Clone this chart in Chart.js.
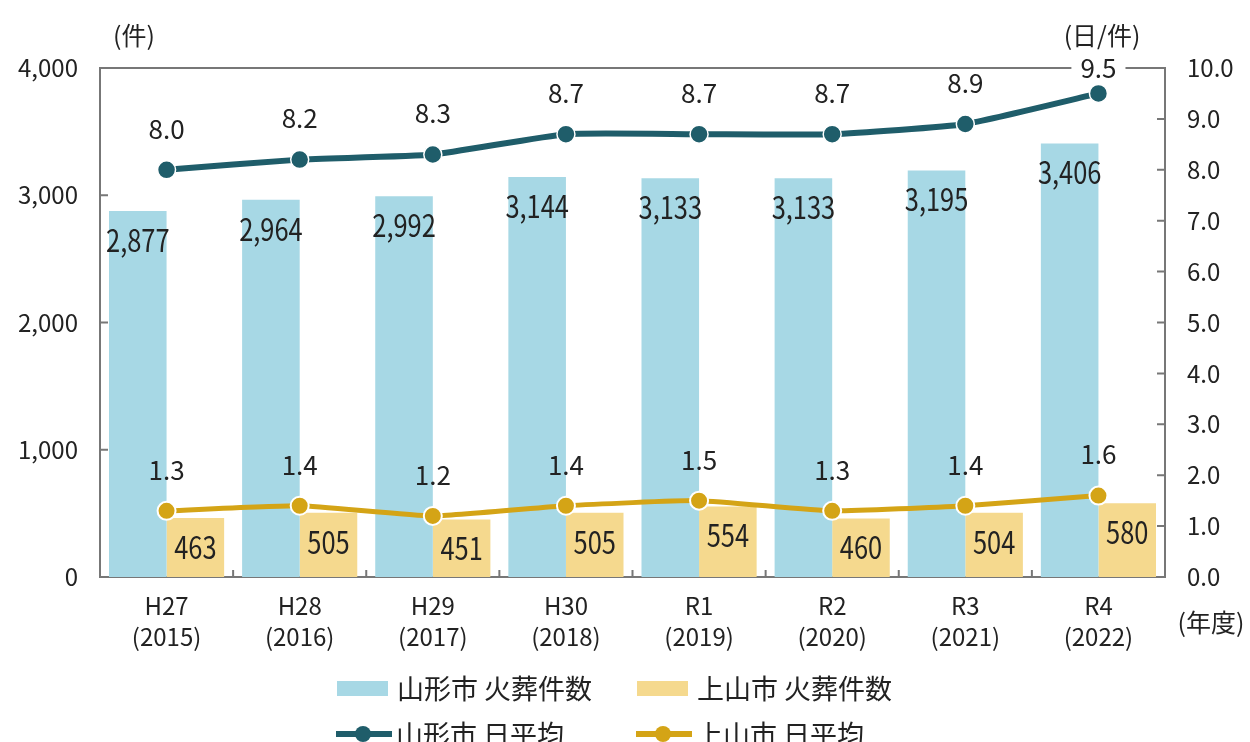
<!DOCTYPE html>
<html lang="ja">
<head>
<meta charset="utf-8">
<script src="https://cdn.jsdelivr.net/npm/chart.js@4/dist/chart.umd.min.js"></script>
<style>
  body { margin: 0; background: #fff; }
  #wrap { width: 1250px; height: 742px; position: relative; }
</style>
</head>
<body>
<div id="wrap"><canvas id="myChart"></canvas></div>
<script>
const categories = [['H27','(2015)'],['H28','(2016)'],['H29','(2017)'],['H30','(2018)'],['R1','(2019)'],['R2','(2020)'],['R3','(2021)'],['R4','(2022)']]
const yamagataCount = [2877, 2964, 2992, 3144, 3133, 3133, 3195, 3406]
const kaminoyamaCount = [463, 505, 451, 505, 554, 460, 504, 580]
const yamagataAvg = [8.0, 8.2, 8.3, 8.7, 8.7, 8.7, 8.9, 9.5]
const kaminoyamaAvg = [1.3, 1.4, 1.2, 1.4, 1.5, 1.3, 1.4, 1.6]
const seriesNames = ['山形市 火葬件数', '上山市 火葬件数', '山形市 日平均', '上山市 日平均']

const FONT = '"Noto Sans CJK JP", "Noto Sans", sans-serif'
const TEXT = '#222'
const FRAME = '#777'

const fmt = v => v.toLocaleString('en-US')

// data labels on bars and points
const valueLabels = {
  id: 'valueLabels',
  afterDatasetsDraw(chart) {
    const ctx = chart.ctx
    const area = chart.chartArea
    ctx.save()
    ctx.textAlign = 'center'
    ctx.textBaseline = 'middle'
    chart.data.datasets.forEach((ds, i) => {
      const meta = chart.getDatasetMeta(i)
      meta.data.forEach((el, j) => {
        const v = ds.data[j]
        if (ds.type === 'bar') {
          // tall, narrow digits like the original
          ctx.save()
          ctx.font = '31px ' + FONT
          ctx.fillStyle = TEXT
          ctx.translate(el.x, el.y + 29)
          ctx.scale(0.82, 1)
          ctx.fillText(i === 0 ? fmt(v) : String(v), 0, 0)
          ctx.restore()
        } else {
          const txt = v.toFixed(1)
          let y = el.y - 41
          if (y < area.top) y = area.top
          ctx.font = '26px ' + FONT
          if (i === 2) {
            const w = ctx.measureText(txt).width
            ctx.fillStyle = '#fff'
            ctx.fillRect(el.x - w / 2 - 9, y - 14, w + 18, 28)
          }
          ctx.fillStyle = TEXT
          ctx.fillText(txt, el.x, y)
        }
      })
    })
    ctx.restore()
  }
}

// top border, inward tick marks, axis titles, legend
const frameAndLegend = {
  id: 'frameAndLegend',
  beforeDatasetsDraw(chart) {
    const ctx = chart.ctx
    const a = chart.chartArea
    const y = chart.scales.y
    const y1 = chart.scales.y1
    const x = chart.scales.x
    ctx.save()
    ctx.strokeStyle = FRAME
    ctx.lineWidth = 2
    ctx.beginPath()
    ctx.moveTo(a.left, a.top); ctx.lineTo(a.right, a.top)
    y.ticks.forEach(t => {
      const p = y.getPixelForValue(t.value)
      ctx.moveTo(a.left, p); ctx.lineTo(a.left + 8, p)
    })
    y1.ticks.forEach(t => {
      const p = y1.getPixelForValue(t.value)
      ctx.moveTo(a.right, p); ctx.lineTo(a.right - 8, p)
    })
    for (let i = 1; i < categories.length; i++) {
      const p = (x.getPixelForValue(i - 1) + x.getPixelForValue(i)) / 2
      ctx.moveTo(p, a.bottom); ctx.lineTo(p, a.bottom - 7)
    }
    ctx.stroke()
    ctx.restore()
  },
  afterDraw(chart) {
    const ctx = chart.ctx
    const ds = chart.data.datasets
    ctx.save()
    ctx.fillStyle = TEXT
    ctx.textBaseline = 'middle'
    ctx.textAlign = 'center'
    ctx.font = '25px ' + FONT
    ctx.fillText('(件)', 134, 35)
    ctx.fillText('(日/件)', 1102, 35)
    ctx.fillText('(年度)', 1211, 622)

    const rows = [
      { y: 688, items: [{ x: 337, i: 0 }, { x: 637, i: 1 }] },
      { y: 734, items: [{ x: 336, i: 2 }, { x: 636, i: 3 }] }
    ]
    ctx.textAlign = 'left'
    ctx.font = '27px ' + FONT
    rows.forEach(r => {
      r.items.forEach(it => {
        const d = ds[it.i]
        if (d.type === 'bar') {
          ctx.fillStyle = d.backgroundColor
          ctx.fillRect(it.x, r.y - 7, 51, 15)
        } else {
          ctx.strokeStyle = d.borderColor
          ctx.lineWidth = 6
          ctx.beginPath()
          ctx.moveTo(it.x, r.y); ctx.lineTo(it.x + 56, r.y)
          ctx.stroke()
          ctx.fillStyle = d.borderColor
          ctx.beginPath()
          ctx.arc(it.x + 27, r.y, 8, 0, Math.PI * 2)
          ctx.fill()
        }
        ctx.fillStyle = TEXT
        ctx.fillText(seriesNames[it.i], it.x + 60, r.y + 1)
      })
    })
    ctx.restore()
  }
}

const ctx = document.getElementById('myChart').getContext('2d')
const chart = new Chart(ctx, {
  data: {
    labels: categories,
    datasets: [
      { type: 'bar', label: seriesNames[0], data: yamagataCount, backgroundColor: '#a7d8e5', yAxisID: 'y', order: 2, categoryPercentage: 0.865, barPercentage: 1.0 },
      { type: 'bar', label: seriesNames[1], data: kaminoyamaCount, backgroundColor: '#f5d98e', yAxisID: 'y', order: 2, categoryPercentage: 0.865, barPercentage: 1.0 },
      { type: 'line', label: seriesNames[2], data: yamagataAvg, borderColor: '#1f5d6a', backgroundColor: '#1f5d6a', yAxisID: 'y1', order: 1,
        borderWidth: 6, pointRadius: 9, pointBackgroundColor: '#1f5d6a', pointBorderColor: '#fff', pointBorderWidth: 1.5, tension: 0.15 },
      { type: 'line', label: seriesNames[3], data: kaminoyamaAvg, borderColor: '#d4a416', backgroundColor: '#d4a416', yAxisID: 'y1', order: 1,
        borderWidth: 5, pointRadius: 9, pointBackgroundColor: '#d4a416', pointBorderColor: '#fff', pointBorderWidth: 2, tension: 0.15 }
    ]
  },
  options: {
    responsive: true,
    maintainAspectRatio: false,
    animation: false,
    devicePixelRatio: 1,
    layout: { padding: { top: 68, left: 0, right: 0, bottom: 0 } },
    plugins: { legend: { display: false }, tooltip: { enabled: false } },
    scales: {
      x: {
        grid: { display: false, drawTicks: false },
        border: { display: true, color: FRAME, width: 2 },
        ticks: { color: TEXT, font: { family: FONT, size: 24, lineHeight: 1.3 }, padding: 13, maxRotation: 0 },
        afterFit: s => { s.height = 165 }
      },
      y: {
        position: 'left',
        min: 0, max: 4000,
        grid: { display: false, drawTicks: false },
        border: { display: true, color: FRAME, width: 2 },
        ticks: { stepSize: 1000, color: TEXT, font: { family: FONT, size: 24 }, padding: 22, callback: v => fmt(v) },
        afterFit: s => { s.width = 100 }
      },
      y1: {
        position: 'right',
        min: 0, max: 10,
        grid: { display: false, drawTicks: false },
        border: { display: true, color: FRAME, width: 2 },
        ticks: { stepSize: 1, color: TEXT, font: { family: FONT, size: 24 }, padding: 22, callback: v => v.toFixed(1) },
        afterFit: s => { s.width = 85 }
      }
    }
  },
  plugins: [valueLabels, frameAndLegend]
})
</script>
</body>
</html>
